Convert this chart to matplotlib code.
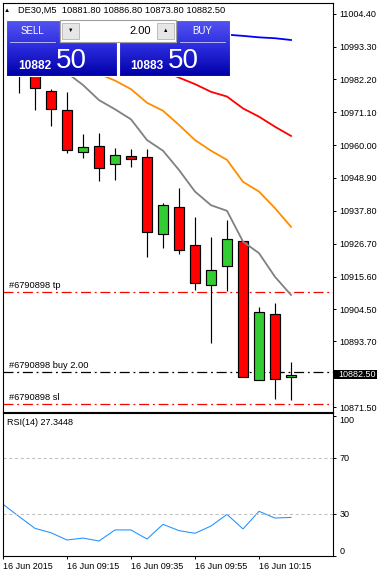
import matplotlib
matplotlib.use("Agg")
import matplotlib.pyplot as plt
import numpy as np
from matplotlib.patches import Polygon, Rectangle
from matplotlib.colors import LinearSegmentedColormap

plt.rcParams['font.family'] = ['Liberation Sans', 'DejaVu Sans']

nan = np.nan

# --- data (M5 bars, 16 Jun 2015) ---
# first bar sits at the left edge and is not visible in the reference
header = "DE30,M5  10881.80 10886.80 10873.80 10882.50"
opens = [nan, 10990.0, 10985.0, 10978.2, 10971.8, 10957.6, 10959.6, 10953.5, 10956.3, 10955.9,
         10929.9, 10939.0, 10926.2, 10912.6, 10919.1, 10927.5, 10880.6, 10902.8, 10881.8]
highs = [nan, 10992.0, 10986.5, 10978.9, 10978.0, 10963.8, 10964.1, 10959.0, 10958.6, 10958.6,
         10940.5, 10945.5, 10935.7, 10929.0, 10934.7, 10927.6, 10905.2, 10906.7, 10886.8]
lows = [nan, 10977.7, 10971.9, 10966.6, 10957.4, 10955.8, 10948.0, 10948.3, 10952.7, 10922.3,
        10925.3, 10923.3, 10911.1, 10893.3, 10910.6, 10881.6, 10880.6, 10874.3, 10873.8]
closes = [nan, 10985.0, 10979.2, 10972.1, 10958.5, 10959.3, 10952.2, 10956.6, 10955.2, 10930.5,
          10939.7, 10924.5, 10913.3, 10917.7, 10928.2, 10881.6, 10903.5, 10880.9, 10882.5]

ma_gray = [nan, nan, nan, 10988.0, 10984.4, 10980.3, 10975.2, 10972.1, 10968.7, 10961.7,
           10958.1, 10951.6, 10944.3, 10939.7, 10937.8, 10927.4, 10923.5, 10915.5, 10909.4]
ma_orange = [nan, nan, nan, nan, nan, 10987.0, 10984.0, 10981.8, 10978.9, 10974.3,
             10971.6, 10966.8, 10961.7, 10958.1, 10955.0, 10947.6, 10944.3, 10938.7, 10932.4]
ma_red = [nan] * 10 + [10985.0, 10982.8, 10980.6, 10978.0, 10976.4, 10972.4, 10969.6, 10966.2, 10963.1]
ma_blue = [nan] * 13 + [10997.6, 10997.3, 10996.9, 10996.4, 10996.1, 10995.5]

rsi = [36.7, 28.0, 19.5, 16.4, 11.2, 12.6, 10.5, 18.4, 18.4, 11.9,
       22.4, 17.9, 16.0, 21.2, 29.5, 19.1, 31.7, 26.9, 27.3448]

time_ticks = [0, 4, 8, 12, 16]
time_labels = ["16 Jun 2015", "16 Jun 09:15", "16 Jun 09:35", "16 Jun 09:55", "16 Jun 10:15"]
price_ticks = [11004.40, 10993.30, 10982.20, 10971.10, 10960.00, 10948.90, 10937.80,
               10926.70, 10915.60, 10904.50, 10893.70, 10871.50]
rsi_ticks = [0, 30, 70, 100]

order_id = "#6790898"
tp_price = 10910.5
open_price = 10883.5
sl_price = 10872.5
bid = 10882.50
ask = 10883.50
lots = 2.00

W, H = 380, 574
FS = 6.5


def draw_candles(ax):
    x = np.arange(len(opens))
    o = np.array(opens)
    c = np.array(closes)
    ok = ~np.isnan(o)
    ax.vlines(x[ok], np.array(lows)[ok], np.array(highs)[ok], color='black', lw=0.85, zorder=2)
    bottom = np.minimum(o[ok], c[ok])
    height = np.maximum(np.abs(c[ok] - o[ok]), 0.4)
    colors = ['#32cd32' if cc >= oo else '#ff0000' for oo, cc in zip(o[ok], c[ok])]
    ax.bar(x[ok], height, bottom=bottom, width=0.62, color=colors,
           edgecolor='black', linewidth=0.85, zorder=3)


def draw_panel(fig):
    ov = fig.add_axes([0, 0, 1, 1], zorder=10)
    ov.patch.set_alpha(0)
    ov.axis('off')
    cmap = LinearSegmentedColormap.from_list('panel', ['#5656f2', '#2a2adc', '#0000a8'])
    grad = np.linspace(0, 1, 100).reshape(-1, 1)
    blocks = [
        [(6, 19.5), (59.5, 19.5), (59.5, 42), (117, 42), (117, 76), (6, 76)],
        [(176, 19.5), (229.5, 19.5), (229.5, 76), (119, 76), (119, 42), (176, 42)],
    ]
    for pts in blocks:
        poly = Polygon(pts, closed=True, facecolor='none', edgecolor='white', lw=0.8, zorder=3)
        ov.add_patch(poly)
        im = ov.imshow(grad, cmap=cmap, extent=(6, 230, 76, 19.5), aspect='auto', zorder=2)
        im.set_clip_path(poly)

    # spinner with lot size
    ov.add_patch(Rectangle((59.5, 20), 116.5, 21.5, facecolor='white', edgecolor='#a0a0a0', lw=0.8, zorder=4))
    for bx in (62, 157):
        ov.add_patch(Rectangle((bx, 22.5), 16.5, 16.5, facecolor='#e6e6e6', edgecolor='#b4b4b4', lw=0.6, zorder=5))
    ov.text(70.2, 30.5, '▼', fontsize=4, ha='center', va='center', zorder=6)
    ov.text(165.2, 30.5, '▲', fontsize=4, ha='center', va='center', zorder=6)
    ov.text(150.5, 30.8, f"{lots:.2f}", fontsize=8, ha='right', va='center', zorder=6)

    # button captions and separators
    ov.text(32.5, 30.5, 'SELL', color='white', fontsize=7, ha='center', va='center', zorder=6)
    ov.text(202.5, 30.5, 'BUY', color='white', fontsize=7, ha='center', va='center', zorder=6)
    ov.plot([10, 55], [41.5, 41.5], color='#c8c8ff', lw=0.6, zorder=6)
    ov.plot([180, 225], [41.5, 41.5], color='#c8c8ff', lw=0.6, zorder=6)

    bid_s = f"{bid:.2f}"
    ask_s = f"{ask:.2f}"
    ov.text(18, 69, bid_s[:5], color='white', fontsize=8.6, fontweight='bold', ha='left', va='baseline', zorder=6)
    ov.text(56, 68.5, bid_s[6:], color='white', fontsize=20, ha='left', va='baseline', zorder=6)
    ov.text(130, 69, ask_s[:5], color='white', fontsize=8.6, fontweight='bold', ha='left', va='baseline', zorder=6)
    ov.text(168, 68.5, ask_s[6:], color='white', fontsize=20, ha='left', va='baseline', zorder=6)

    # header line
    ov.text(6.7, 10.5, '▲', fontsize=4.5, ha='center', va='center', zorder=6)
    ov.text(18, 10.5, header, fontsize=6.7, ha='left', va='center', zorder=6)

    ov.set_xlim(0, W)
    ov.set_ylim(H, 0)


def main():
    fig = plt.figure(figsize=(W / 100, H / 100), dpi=100)
    fig.patch.set_facecolor('white')

    left = 3 / W
    width = 329.7 / W
    ax = fig.add_axes([left, 1 - 411.7 / H, width, (411.7 - 3) / H])
    ax_rsi = fig.add_axes([left, 1 - 555.7 / H, width, (555.7 - 413.3) / H])

    xmax = (332.7 - 3) / 16

    # --- price chart ---
    draw_candles(ax)
    x = np.arange(len(opens))
    ax.plot(x, ma_gray, color='#808080', lw=1.3, zorder=4)
    ax.plot(x, ma_orange, color='#ff8c00', lw=1.3, zorder=4)
    ax.plot(x, ma_red, color='#ff0000', lw=1.3, zorder=4)
    ax.plot(x, ma_blue, color='#0000ff', lw=1.3, zorder=4)

    dd = (8, 3, 1.5, 3)
    ax.axhline(tp_price, color='#ff0000', lw=0.9, dashes=dd, zorder=1)
    ax.axhline(open_price, color='black', lw=0.9, dashes=dd, zorder=1)
    ax.axhline(sl_price, color='#ff0000', lw=0.9, dashes=dd, zorder=1)
    ax.text(0.4, tp_price + 0.7, f"{order_id} tp", fontsize=FS + 0.2, va='bottom', ha='left')
    ax.text(0.4, open_price + 0.7, f"{order_id} buy {lots:.2f}", fontsize=FS + 0.2, va='bottom', ha='left')
    ax.text(0.4, sl_price + 0.7, f"{order_id} sl", fontsize=FS + 0.2, va='bottom', ha='left')

    ax.set_xlim(0, xmax)
    ax.set_ylim(10869.95, 11008.0)
    ax.set_xticks([])
    ax.yaxis.tick_right()
    ax.set_yticks(price_ticks)
    ax.set_yticklabels([f"{p:.2f}" for p in price_ticks])
    ax.tick_params(axis='y', direction='out', length=2.2, width=0.7, pad=2.5, labelsize=FS)

    # current bid marker on the price scale
    trans = ax.get_yaxis_transform()
    ax.add_patch(Rectangle((1.004, bid - 1.45), 0.131, 2.9, transform=trans,
                           facecolor='black', clip_on=False, zorder=5))
    ax.text(1.017, bid, f"{bid:.2f}", transform=trans, color='white', fontsize=FS,
            ha='left', va='center', zorder=6, clip_on=False)

    # --- RSI ---
    ax_rsi.plot(x, rsi, color='#1e90ff', lw=0.75)
    for lvl in (30, 70):
        ax_rsi.axhline(lvl, color='#c0c0c0', lw=0.75, dashes=(3, 2.5))
    ax_rsi.text(0.013, 0.934, f"RSI(14) {rsi[-1]:.4f}", transform=ax_rsi.transAxes,
                fontsize=FS, ha='left', va='center')
    ax_rsi.set_xlim(0, xmax)
    ax_rsi.set_ylim(0, 101.7)
    ax_rsi.yaxis.tick_right()
    ax_rsi.set_yticks(rsi_ticks)
    ax_rsi.set_yticklabels([str(t) for t in rsi_ticks])
    ax_rsi.tick_params(axis='y', direction='out', length=2.2, width=0.7, pad=2.5, labelsize=FS)
    labels = ax_rsi.get_yticklabels()
    labels[0].set_va('bottom')
    labels[-1].set_va('top')
    ax_rsi.set_xticks(time_ticks)
    ax_rsi.set_xticklabels(time_labels, ha='left')
    ax_rsi.tick_params(axis='x', direction='out', length=2.2, width=0.7, pad=2.5, labelsize=FS)

    for a in (ax, ax_rsi):
        for s in a.spines.values():
            s.set_linewidth(0.8)
            s.set_color('black')

    draw_panel(fig)
    fig.savefig("out.png", dpi=100)


if __name__ == "__main__":
    main()
